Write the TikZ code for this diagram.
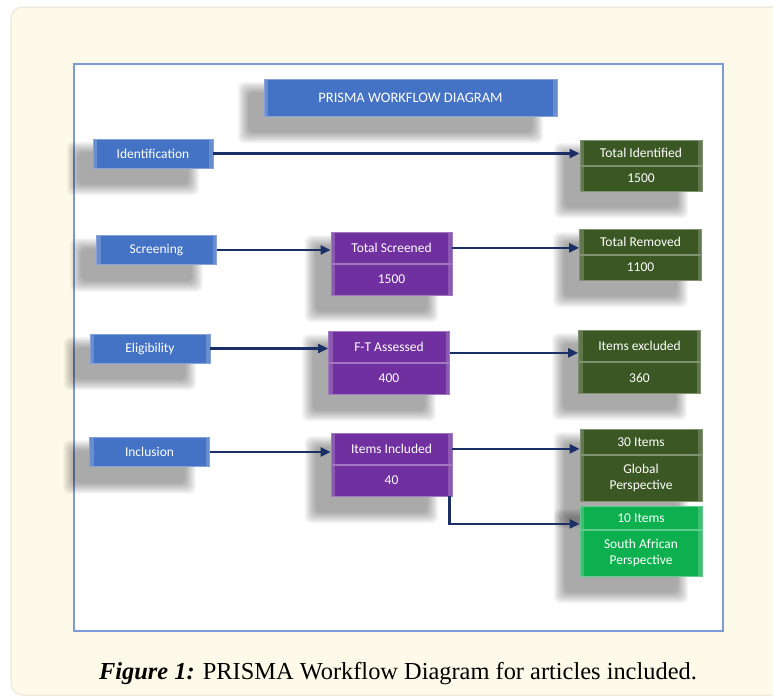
\documentclass[tikz,border=0pt]{standalone}
\usepackage{fontspec}
\setmainfont{Liberation Serif}
\newfontfamily\cellfont{Carlito}
\usetikzlibrary{positioning}
\usetikzlibrary{calc}
\usetikzlibrary{arrows.meta}
\usetikzlibrary{backgrounds}

\definecolor{stageblue}{HTML}{4472C4}
\definecolor{countpurple}{HTML}{7030A0}
\definecolor{keepgreen}{HTML}{3B5724}
\definecolor{localgreen}{HTML}{0DB04E}
\definecolor{arrownavy}{HTML}{1A2F66}
\definecolor{panelcream}{HTML}{FEFAE9}
\definecolor{panelrim}{HTML}{EEEBDD}
\definecolor{frameblue}{HTML}{7C9BD6}

\tikzset{
  cell/.style={fill=#1, draw=#1!65!white, line width=.7pt, text=white,
    font=\cellfont\fontsize{13.5}{16}\selectfont, inner sep=0pt, align=center,
    path picture={
      \fill[white,opacity=.2] (path picture bounding box.north west) rectangle ([xshift=4pt]path picture bounding box.south west);
      \fill[white,opacity=.2] (path picture bounding box.north east) rectangle ([xshift=-4pt]path picture bounding box.south east);
    }},
  stagebox/.style={cell=stageblue, minimum width=120pt, minimum height=29pt},
  countbox/.style={cell=countpurple, minimum width=121pt, minimum height=31pt},
  resultbox/.style={cell=keepgreen, minimum width=122pt, minimum height=25pt},
  localbox/.style={cell=localgreen, minimum width=122pt, minimum height=23pt},
  shadowlayer/.style={fill=black, opacity=.03, rounded corners=6pt},
  flow/.style={draw=arrownavy, line width=2.4pt, -{Triangle[length=10pt,width=9pt]}}
}

% soft shadow under a box, from its top left node to its bottom right node
\newcommand\softshadow[2]{%
  \foreach \k in {0,...,11}
    \fill[shadowlayer] ($(#1.north west)+(-26+\k,3+\k)$) rectangle ($(#2.south east)+(-14-\k,27-\k)$);
}

\begin{document}
\begin{tikzpicture}[x=1pt,y=-1pt]
  % Boundary
  \useasboundingbox (0,0) rectangle (773,696);
  \clip (0,0) rectangle (773,696);
  % Title
  \node[stagebox, minimum width=293pt, minimum height=37pt, font=\cellfont\fontsize{14.5}{17}\selectfont] (title) at (410.5,97.5) {PRISMA WORKFLOW DIAGRAM};
  % Stages
  \node[stagebox] (ident) at (153,153.5) {Identification};
  \node[stagebox] (screen) at (156.5,250) {Screening};
  \node[stagebox] (elig) at (150,348.5) {Eligibility};
  \node[stagebox] (incl) at (149.5,452) {Inclusion};
  % Counts
  \node[countbox, anchor=north] (screened) at (391.5,232) {Total Screened};
  \node[countbox, below=0pt of screened] (screenedn) {1500};
  \node[countbox, anchor=north] (assessed) at (389,331) {F-T Assessed};
  \node[countbox, below=0pt of assessed] (assessedn) {400};
  \node[countbox, anchor=north] (included) at (391.5,433) {Items Included};
  \node[countbox, below=0pt of included] (includedn) {40};
  % Results
  \node[resultbox, anchor=north] (identified) at (641,140) {Total Identified};
  \node[resultbox, below=0pt of identified] (identifiedn) {1500};
  \node[resultbox, anchor=north] (removed) at (640.5,229) {Total Removed};
  \node[resultbox, below=0pt of removed] (removedn) {1100};
  \node[resultbox, anchor=north, minimum height=31pt] (excluded) at (639.5,330) {Items excluded};
  \node[resultbox, below=0pt of excluded, minimum height=31pt] (excludedn) {360};
  \node[resultbox, anchor=north] (global) at (641,429) {30 Items};
  \node[resultbox, below=0pt of global, minimum height=46pt] (globaltxt) {Global\\Perspective};
  \node[localbox, anchor=north] (local) at (641,506) {10 Items};
  \node[localbox, below=0pt of local, minimum height=46pt] (localtxt) {South African\\Perspective};
  % Flow
  \draw[flow] (ident.east) -- (ident.east -| identified.west);
  \draw[flow] (screen.east) -- (screen.east -| screened.west);
  \draw[flow] (screened.east) -- (screened.east -| removed.west);
  \draw[flow] (elig.east) -- (elig.east -| assessed.west);
  \draw[flow] ([yshift=-6pt]assessed.east) -- ([yshift=-6pt]assessed.east -| excluded.west);
  \draw[flow] (incl.east) -- (incl.east -| included.west);
  \draw[flow] (included.east) -- (included.east -| global.west);
  \draw[flow] ([xshift=-3pt]includedn.south east) |- ([yshift=-6pt]local.west);
  % Caption
  \node[font=\fontsize{24.4}{28}\selectfont] (caption) at (398,674) {\textbf{\textit{Figure 1:}} PRISMA Workflow Diagram for articles included.};
  % Panel, frame and shadows
  \begin{scope}[on background layer]
    \fill[white] (0,0) rectangle (773,696);
    \draw[fill=panelcream, draw=panelrim, line width=1.5pt, rounded corners=12pt] (11,7) rectangle (800,695);
    \draw[frameblue, fill=white, line width=1.2pt] (74,64) rectangle (723,631);
    \softshadow{title}{title}
    \foreach \b in {ident,screen,elig,incl}
      {\softshadow{\b}{\b}}
    \foreach \t/\n in {screened/screenedn,assessed/assessedn,included/includedn,identified/identifiedn,removed/removedn,excluded/excludedn,global/globaltxt,local/localtxt}
      {\softshadow{\t}{\n}}
  \end{scope}
\end{tikzpicture}
\end{document}
